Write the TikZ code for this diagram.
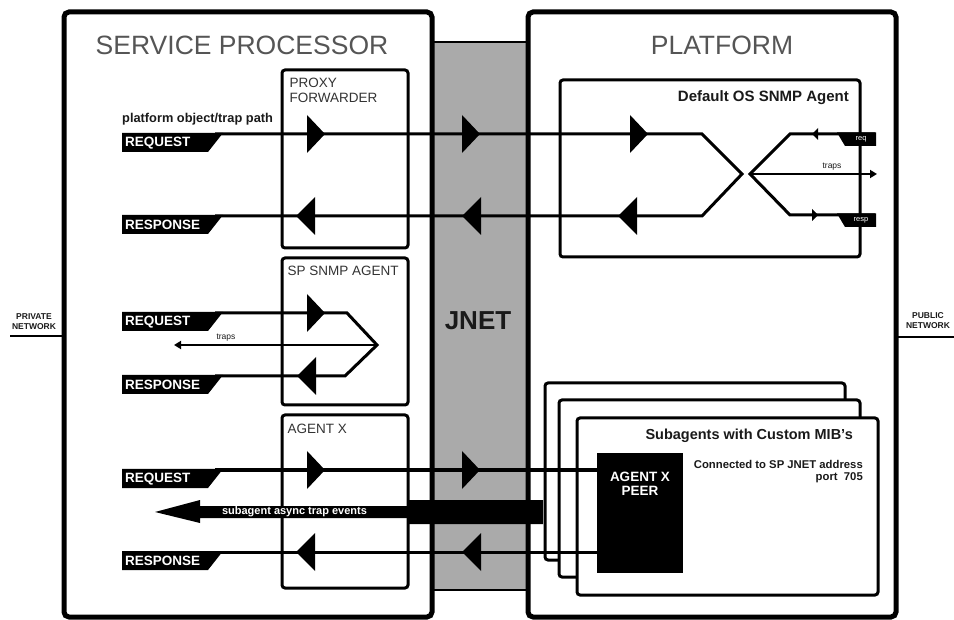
\documentclass[tikz,border=0pt]{standalone}
\usepackage{fontspec}
\setmainfont{Liberation Sans}
\usetikzlibrary{arrows.meta}
\definecolor{titlegray}{HTML}{555555}
\definecolor{labelgray}{HTML}{333333}
\definecolor{jnetgray}{HTML}{AAAAAA}
\definecolor{darktext}{HTML}{1A1A1A}
\newcommand\fsz[1]{\fontsize{#1}{#1}\selectfont}
\newcommand\lefttag[3]{%
  \fill (122,#2-1) -- (223,#2-1) -- (208,#2+18) -- (122,#2+18) -- cycle;
  \node[tagtext] (#1) at (125,#2+9) {#3};}
\newcommand\righttag[3]{%
  \fill (837,#2-1.5) -- (876,#2-1.5) -- (876,#2+12) -- (845,#2+12) -- cycle;
  \node[smalltag] (#1) at (861,#2+5.5) {#3};}
\newcommand\rtri[2]{\fill (#1,#2-19) -- (#1+18,#2) -- (#1,#2+19) -- cycle;}
\newcommand\ltri[2]{\fill (#1,#2) -- (#1+19,#2-19) -- (#1+19,#2+19) -- cycle;}
\begin{document}
\begin{tikzpicture}[x=1pt,y=-1pt,
  box/.style={draw, fill=white, inner sep=0, outer sep=0},
  bigbox/.style={box, line width=5pt, rounded corners=5pt},
  subbox/.style={box, line width=3pt, rounded corners=3pt},
  sig/.style={line width=3pt, line join=miter},
  thinsig/.style={line width=1.8pt},
  tagtext/.style={text=white, font=\bfseries\fsz{13.5}, anchor=west, inner sep=0},
  smalltag/.style={text=white, font=\fsz{7.5}, inner sep=0},
  boxlabel/.style={text=labelgray, font=\fontsize{13.5}{15}\selectfont, anchor=north west, inner sep=0, align=left},
  title/.style={text=titlegray, font=\fsz{26.5}, inner sep=0},
  small/.style={text=darktext, font=\fsz{9}, inner sep=0},
  netlabel/.style={text=darktext, font=\bfseries\fsz{8.5}, inner sep=0, align=center},
  tip/.style={-{Triangle[length=7pt,width=8pt]}}
]
\useasboundingbox (0,0) rectangle (954,620);

% JNET band
\node[draw, fill=jnetgray, line width=2pt, inner sep=0, minimum width=96pt, minimum height=548pt] (jnet) at (480,316) {};
% big boxes
\node[bigbox, minimum width=368pt, minimum height=605pt] (sp) at (248,314.5) {};
\node[bigbox, minimum width=368pt, minimum height=605pt] (plat) at (712,314.5) {};
\node[text=darktext, font=\bfseries\fsz{26}, inner sep=0] (jnetlabel) at (478,321) {JNET};

\node[title] (sptitle) at (242,45) {SERVICE PROCESSOR};
\node[title] (plattitle) at (722,45) {PLATFORM};

% inner SP boxes
\node[subbox, minimum width=126pt, minimum height=178pt] (proxy) at (345,159) {};
\node[subbox, minimum width=126pt, minimum height=147pt] (snmp) at (345,331.5) {};
\node[subbox, minimum width=126pt, minimum height=173pt] (agx) at (345,501.5) {};
\node[boxlabel] (proxyl) at (289.5,78) {PROXY\\FORWARDER};
\node[boxlabel] (snmpl) at (287.5,265.5) {SP SNMP AGENT};
\node[boxlabel] (agxl) at (287.5,424) {AGENT X};

% platform boxes
\node[subbox, minimum width=300pt, minimum height=177pt] (os) at (710,168.5) {};
\node[text=darktext, font=\bfseries\fsz{15}, anchor=east, inner sep=0] (osl) at (849,98) {Default OS SNMP Agent};
\node[subbox, minimum width=300pt, minimum height=177pt] (subA) at (695,471.5) {};
\node[subbox, minimum width=301pt, minimum height=177pt] (subB) at (709.5,488.5) {};
\node[subbox, minimum width=301pt, minimum height=177pt] (subC) at (727.5,506.5) {};
\node[text=darktext, font=\bfseries\fsz{14.5}, anchor=east, inner sep=0] (subl) at (853,436) {Subagents with Custom MIB's};
\node[text=darktext, font=\bfseries\fsz{11.3}, anchor=east, inner sep=0, align=right] (conl) at (863,471.5) {Connected to SP JNET address\\[0pt]port~~705};

% network labels
\node[netlabel] (priv) at (34,321.5) {PRIVATE\\[1.5pt]NETWORK};
\coordinate (privA) at (10,336);
\draw[line width=2pt] (privA) -- (sp.west |- privA);
\node[netlabel] (pub) at (928,321) {PUBLIC\\[1.5pt]NETWORK};
\coordinate (pubB) at (954,337);
\draw[line width=2pt] (plat.east |- pubB) -- (pubB);

% ---- row 1: platform object path
\node[text=darktext, font=\bfseries\fsz{12.8}, anchor=west, inner sep=0] (pathl) at (122,119) {platform object/trap path};
\coordinate (r1a) at (215,134); \coordinate (r1b) at (702,134);
\coordinate (osv) at (742,174);
\coordinate (s1a) at (215,216); \coordinate (s1b) at (702,216);
\draw[sig] (r1a) -- (r1b) -- (osv) -- (s1b) -- (s1a);
\coordinate (osw) at (750,174);
\coordinate (rq1) at (790,134); \coordinate (rq2) at (875,134);
\coordinate (rs1) at (790,215); \coordinate (rs2) at (875,215);
\coordinate (trp) at (877,174);
\draw[sig] (rq2) -- (rq1) -- (osw) -- (rs1) -- (rs2);
\draw[thinsig, tip] (osw) -- (trp);
\node[small, font=\fsz{8.5}] (trl1) at (832,167) {traps};
\fill (812,134) -- (818,128) -- (818,140) -- cycle;
\fill (818,215) -- (812,209) -- (812,221) -- cycle;
\righttag{reqt}{134}{req}
\righttag{respt}{215}{resp}
\lefttag{req1}{134}{REQUEST}
\lefttag{resp1}{216}{RESPONSE}
\rtri{307}{134} \rtri{462}{134} \rtri{630}{134}
\ltri{296}{216} \ltri{462}{216} \ltri{618}{216}

% ---- row 2: SP SNMP agent
\coordinate (r2a) at (215,313); \coordinate (r2b) at (347,313);
\coordinate (snv) at (377,345);
\coordinate (s2a) at (215,376); \coordinate (s2b) at (345,376);
\coordinate (trp2) at (174,345);
\draw[sig] (r2a) -- (r2b) -- (snv) -- (s2b) -- (s2a);
\draw[thinsig, tip] (snv) -- (trp2);
\node[small, font=\fsz{8.5}] (trl2) at (226,338) {traps};
\lefttag{req2}{313}{REQUEST}
\lefttag{resp2}{376}{RESPONSE}
\rtri{307}{313}
\ltri{297}{376}

% ---- row 3: Agent X
\node[fill=black, inner sep=0, minimum width=86pt, minimum height=120pt] (peer) at (640,513) {};
\node[text=white, font=\bfseries\fsz{13.5}, align=center, inner sep=0] (peerl) at (640,484) {AGENT X\\[1pt]PEER};
\coordinate (r3a) at (215,470); \coordinate (s3a) at (215,552);
\draw[sig] (r3a) -- (peer.west |- r3a);
\draw[sig] (peer.west |- s3a) -- (s3a);
\lefttag{req3}{470}{REQUEST}
\lefttag{resp3}{552}{RESPONSE}
\rtri{307}{470} \rtri{462}{470}
\ltri{296}{552} \ltri{462}{552}
% thick async trap arrow
\fill (155,512) -- (200,500) -- (200,506) -- (407,506) -- (407,500) -- (543,500)
  -- (543,524) -- (407,524) -- (407,518) -- (200,518) -- (200,523) -- cycle;
\node[text=white, font=\bfseries\fsz{11}, inner sep=0] (trapl) at (294.5,511.5) {subagent async trap events};
\end{tikzpicture}
\end{document}
